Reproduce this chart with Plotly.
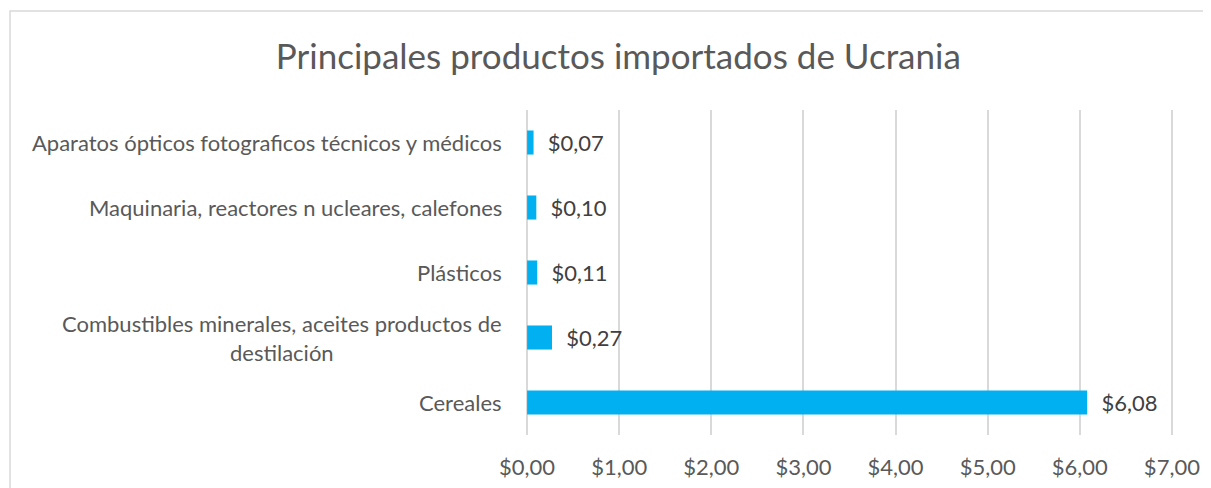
import plotly.graph_objects as go

# Data (bottom to top, as drawn)
categories = [
    "Cereales",
    "Combustibles minerales, aceites productos de<br>destilación",
    "Plásticos",
    "Maquinaria, reactores n ucleares, calefones",
    "Aparatos ópticos fotograficos técnicos y médicos",
]
values = [6.08, 0.27, 0.11, 0.10, 0.07]
x_ticks = [0, 1, 2, 3, 4, 5, 6, 7]
x_tick_labels = ["$%d,00" % v for v in x_ticks]

title_text = "Principales productos importados de Ucrania"

palette = {
    "bar": "#00B0F0",
    "text": "#595959",
    "label": "#404040",
    "grid": "#D9D9D9",
    "border": "#D9D9D9",
}
font_family = "Lato, 'Open Sans', sans-serif"

fig = go.Figure()
fig.add_trace(go.Bar(
    y=categories,
    x=values,
    orientation="h",
    marker=dict(color=palette["bar"], line=dict(width=0)),
    texttemplate="\u00a0\u00a0$%{x:.2f}",
    textposition="outside",
    constraintext="none",
    textfont=dict(size=22, color=palette["label"], family=font_family),
    cliponaxis=False,
    width=0.37,
))

# category labels (centered for the wrapped one, like Excel)
for cat in categories:
    fig.add_annotation(
        xref="paper", yref="y", x=0, y=cat,
        text=cat, showarrow=False,
        xanchor="right", yanchor="middle", align="center",
        xshift=-22,
        font=dict(size=22, color=palette["text"], family=font_family),
    )

# chart frame (like the Excel chart area border)
fig.add_shape(
    type="rect", xref="paper", yref="paper",
    x0=-0.7975, x1=1.2, y0=-0.5, y1=1.3046,
    line=dict(color=palette["border"], width=1.5),
    fillcolor="rgba(0,0,0,0)", layer="below",
)

fig.update_layout(
    width=1211,
    height=488,
    paper_bgcolor="white",
    plot_bgcolor="white",
    separators=",.",
    font=dict(family=font_family, color=palette["text"], size=22),
    title=dict(text=title_text, x=0.504, xanchor="center", y=0.9, yanchor="middle",
               font=dict(size=35, color=palette["text"], family=font_family)),
    margin=dict(l=518, r=46, t=102, b=61, autoexpand=False),
    showlegend=False,
    xaxis=dict(
        range=[-0.012, 7.012],
        tickvals=x_ticks,
        ticktext=x_tick_labels,
        showgrid=True,
        gridcolor=palette["grid"],
        gridwidth=1.5,
        zeroline=False,
        showline=False,
        ticks="",
        ticklabelstandoff=17,
        tickfont=dict(size=22, color=palette["text"]),
    ),
    yaxis=dict(
        showgrid=False,
        zeroline=False,
        showline=False,
        ticks="",
        showticklabels=False,
    ),
)

fig.write_html("out.html")
